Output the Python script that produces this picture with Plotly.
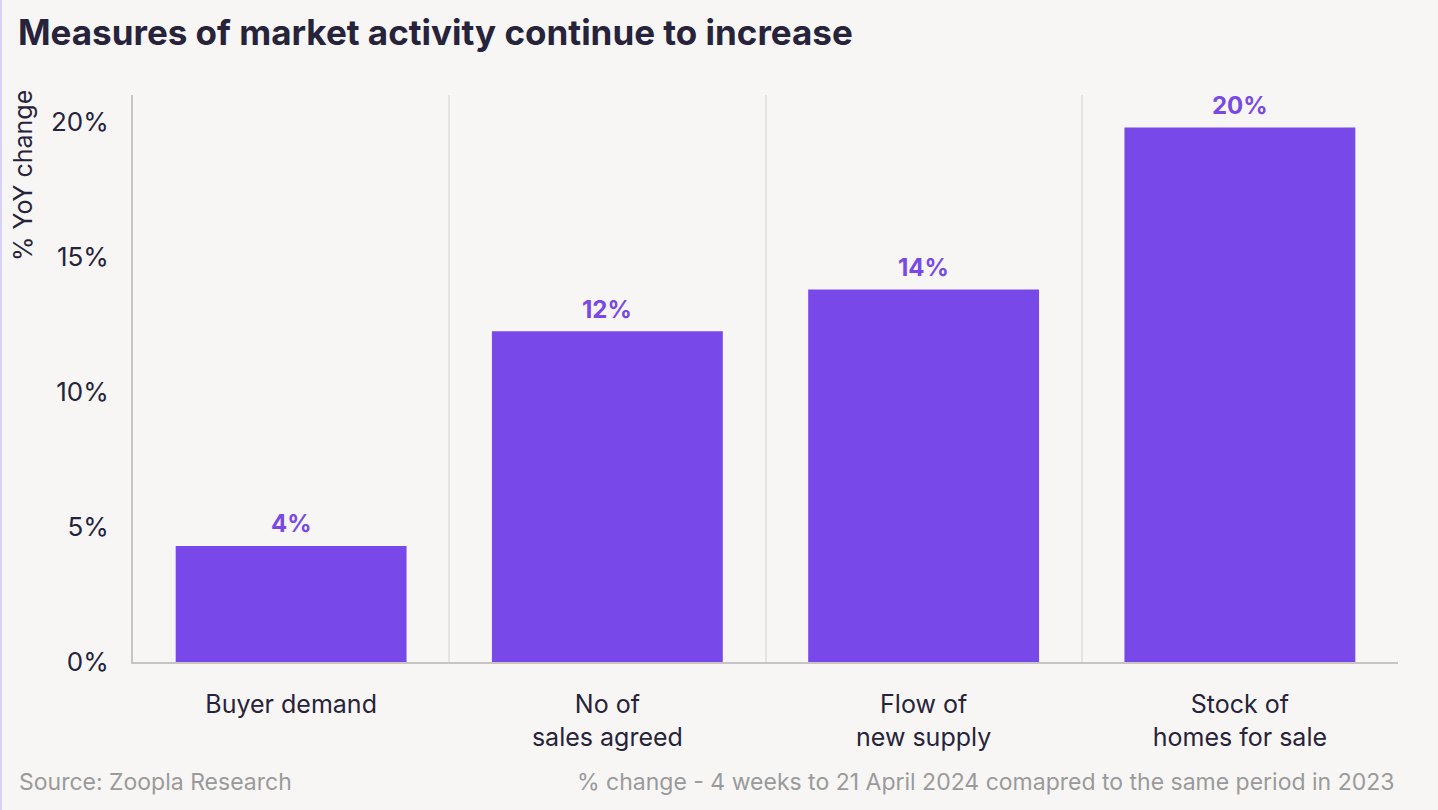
import plotly.graph_objects as go

categories = ["Buyer demand", "No of<br>sales agreed", "Flow of<br>new supply", "Stock of<br>homes for sale"]
values = [4.3, 12.25, 13.8, 19.8]
labels = ["4%", "12%", "14%", "20%"]
tick_vals = [0, 5, 10, 15, 20]
tick_text = ["0%", "5%", "10%", "15%", "20%"]

FONT = "Inter"
DARK = "#27233a"
PURPLE = "#7849e8"
BG = "#f7f6f5"

fig = go.Figure(go.Bar(
    x=categories, y=values,
    marker=dict(color=PURPLE, line=dict(width=0)),
    hoverinfo="x+y",
))

annotations = [
    dict(x=c, y=v, text=f"<b>{t}</b>", xref="x", yref="y", yanchor="middle",
         yshift=22, showarrow=False,
         font=dict(family=FONT, size=24, color=PURPLE))
    for c, v, t in zip(categories, values, labels)
]

annotations += [
    dict(text="% YoY change", textangle=-90, xref="paper", yref="paper",
         x=-0.087, y=1.013, xanchor="center", yanchor="top", showarrow=False,
         font=dict(family=FONT, size=25, color=DARK)),
    dict(text="Source: Zoopla Research", xref="paper", yref="paper",
         x=-0.0915, y=-0.212, xanchor="left", yanchor="middle", showarrow=False,
         font=dict(family=FONT, size=23, color="#9a9a9a")),
    dict(text="% change - 4 weeks to 21 April 2024 comapred to the same period in 2023",
         xref="paper", yref="paper", x=0.9985, y=-0.212, xanchor="right", yanchor="middle",
         showarrow=False, font=dict(family=FONT, size=23, color="#9a9a9a")),
]

fig.update_layout(
    width=1438, height=810,
    paper_bgcolor=BG, plot_bgcolor=BG,
    margin=dict(l=133, r=40, t=95, b=148),
    bargap=0.27,
    showlegend=False,
    title=dict(text="<b>Measures of market activity continue to increase</b>",
               x=0.0125, xanchor="left", y=0.959, yanchor="middle",
               font=dict(family=FONT, size=35, color=DARK)),
    font=dict(family=FONT, color=DARK),
    xaxis=dict(tickson="boundaries", showgrid=True, gridcolor="#e5e4e3", gridwidth=1.5,
               showline=True, linecolor="#c6c5c4", linewidth=2, ticks="",
               ticklabelstandoff=19,
               tickfont=dict(family=FONT, size=25, color=DARK), range=[-0.5, 3.5]),
    yaxis=dict(range=[0, 21], tickvals=tick_vals, ticktext=tick_text, showgrid=False,
               zeroline=False, showline=True, linecolor="#c6c5c4", linewidth=2,
               ticks="", ticklabelstandoff=17,
               tickfont=dict(family=FONT, size=26, color=DARK)),
    annotations=annotations,
    shapes=[dict(type="line", xref="paper", yref="paper",
                 xsizemode="pixel", xanchor=0, x0=-132, x1=-132,
                 ysizemode="pixel", yanchor=0, y0=-148, y1=715,
                 line=dict(color="#d9d2f6", width=2))],
)

fig.write_html("out.html", config={"displayModeBar": False},
               post_script="document.body.style.margin='0';document.body.style.overflow='hidden';")
